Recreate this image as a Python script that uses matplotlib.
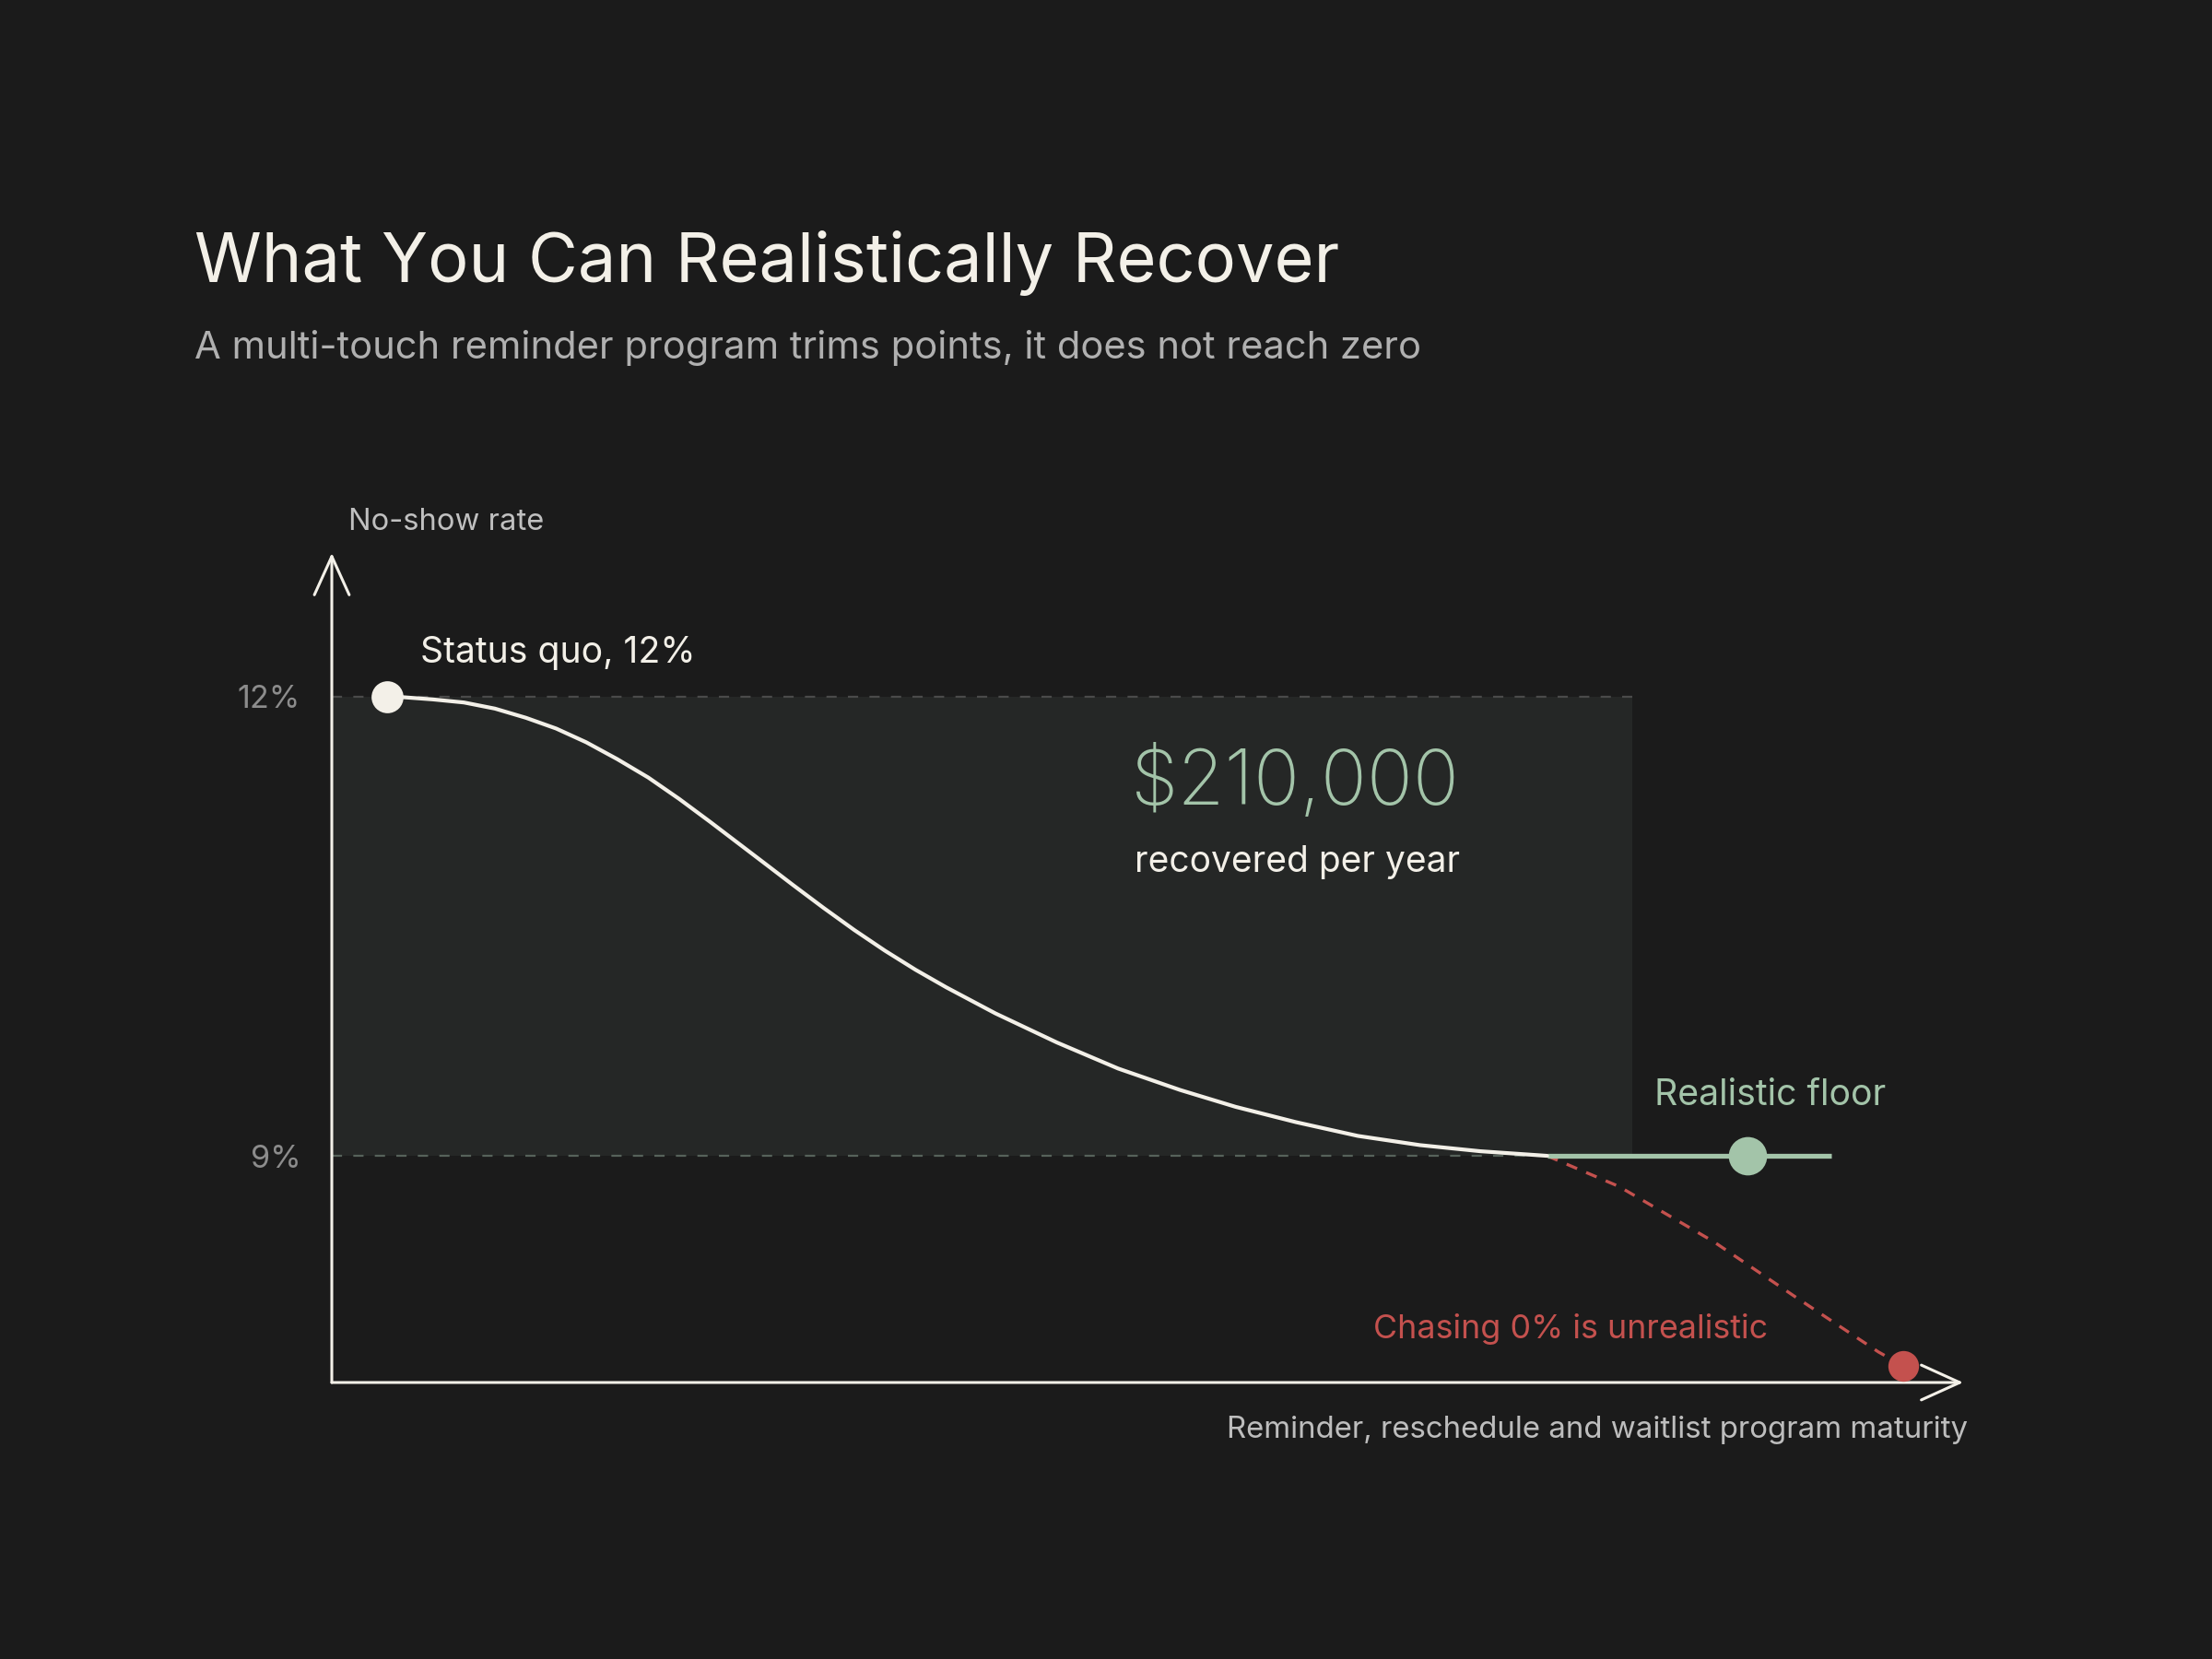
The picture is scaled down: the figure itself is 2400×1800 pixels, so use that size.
"""No-show rate recovery chart: realistic floor versus chasing zero."""

import matplotlib

matplotlib.use("Agg")

import matplotlib.pyplot as plt

plt.rcParams["font.family"] = ["Inter", "DejaVu Sans"]

# program maturity (0-100 along the axis) vs no-show rate (%)
curve_x = [3.4, 4.3, 6.2, 8.1, 10.0, 11.9, 13.75, 15.6, 17.5, 19.4, 21.3,
           23.2, 25.05, 26.9, 28.25, 30.13, 32.02, 33.9, 35.78, 37.67, 40.68,
           44.45, 48.2, 52.0, 55.4, 59.1, 62.9, 66.7, 70.4, 74.5]
curve_y = [12.0, 11.995, 11.98, 11.96, 11.92, 11.86, 11.79, 11.70, 11.59,
           11.47, 11.33, 11.18, 11.03, 10.88, 10.77, 10.62, 10.475, 10.34,
           10.215, 10.10, 9.93, 9.74, 9.57, 9.43, 9.32, 9.22, 9.13, 9.07,
           9.03, 9.0]

floor_x = [74.5, 91.9]
floor_y = [9.0, 9.0]
floor_dot = (86.8, 9.0)

chase_x = [74.5, 78.9, 84.7, 89.7, 94.8, 96.3]
chase_y = [9.0, 8.80, 8.44, 8.08, 7.72, 7.63]

status_quo = (3.4, 12.0)
band_x = (0, 79.7)
band_y = (9.0, 12.0)
tick_vals = [12.0, 9.0]
tick_labels = ["12%", "9%"]

BG = "#1b1b1b"
WHITE = "#f3f0e8"
GREEN = "#a3c4a9"
RED = "#c4514e"

W, H = 2400, 1800
fig = plt.figure(figsize=(12, 9), dpi=200, facecolor=BG)
ax = fig.add_axes([360 / W, 1 - 1500 / H, 1770 / W, 900 / H])
ax.set_facecolor(BG)
ax.set_xlim(0, 100)
ax.set_ylim(7.52, 12.936)
for s in ax.spines.values():
    s.set_visible(False)
ax.set_xticks([])
ax.set_yticks([])

# recovered band
ax.fill_between(band_x, band_y[0], band_y[1], color="#252726", lw=0, zorder=1)
ax.plot([band_x[0], band_x[1]], [tick_vals[0]] * 2, color="#4a4a4a", lw=0.8,
        linestyle=(0, (5, 5.5)), zorder=2)
ax.plot([band_x[0], curve_x[-1]], [tick_vals[1]] * 2, color="#56625a", lw=0.8,
        linestyle=(0, (5, 5.5)), zorder=2)

ax.plot(chase_x, chase_y, color=RED, lw=1.2, linestyle=(0, (3.7, 3.2)), zorder=3)
ax.plot(floor_x, floor_y, color=GREEN, lw=1.9, solid_capstyle="butt", zorder=4)
ax.plot(curve_x, curve_y, color=WHITE, lw=1.5, solid_capstyle="round",
        solid_joinstyle="round", zorder=5)

ax.plot(*status_quo, "o", ms=12.5, color=WHITE, mec="none", zorder=6)
ax.plot(*floor_dot, "o", ms=15, color=GREEN, mec="none", zorder=6)
ax.plot(chase_x[-1], chase_y[-1], "o", ms=12, color=RED, mec="none", zorder=6)

# axis arrows
arrow = dict(arrowstyle="->,head_length=1.5,head_width=0.68", color=WHITE,
             lw=1.1, shrinkA=0, shrinkB=0, mutation_scale=10)
ax.annotate("", xy=(0, 1), xytext=(0, 0), xycoords="axes fraction",
            arrowprops=arrow, annotation_clip=False)
ax.annotate("", xy=(1, 0), xytext=(0, 0), xycoords="axes fraction",
            arrowprops=arrow, annotation_clip=False)


def put(x, y, s, **kw):
    fig.text(x / W, 1 - y / H, s, va="baseline", **kw)


put(211, 306, "What You Can Realistically Recover", size=26.6, color=WHITE)
put(211, 389, "A multi-touch reminder program trims points, it does not reach zero",
    size=15, color="#b0b0b0")
put(378, 575, "No-show rate", size=11.8, color="#c0c0c0")
put(326, 768, tick_labels[0], size=12.3, color="#8c8c8c", ha="right")
put(327, 1267, tick_labels[1], size=12.3, color="#8c8c8c", ha="right")
put(456, 719, "Status quo, 12%", size=14.1, color=WHITE)
put(1584, 873, "$210,000", size=29.8, color=GREEN, ha="right", weight="light")
put(1584, 946, "recovered per year", size=14, color=WHITE, ha="right")
put(1795, 1199, "Realistic floor", size=14.1, color=GREEN)
put(1918, 1452, "Chasing 0% is unrealistic", size=12.9, color=RED, ha="right")
put(2135, 1560, "Reminder, reschedule and waitlist program maturity",
    size=11.9, color="#bdbdbd", ha="right")

fig.savefig("out.png", dpi=200, facecolor=BG)
plt.close(fig)
